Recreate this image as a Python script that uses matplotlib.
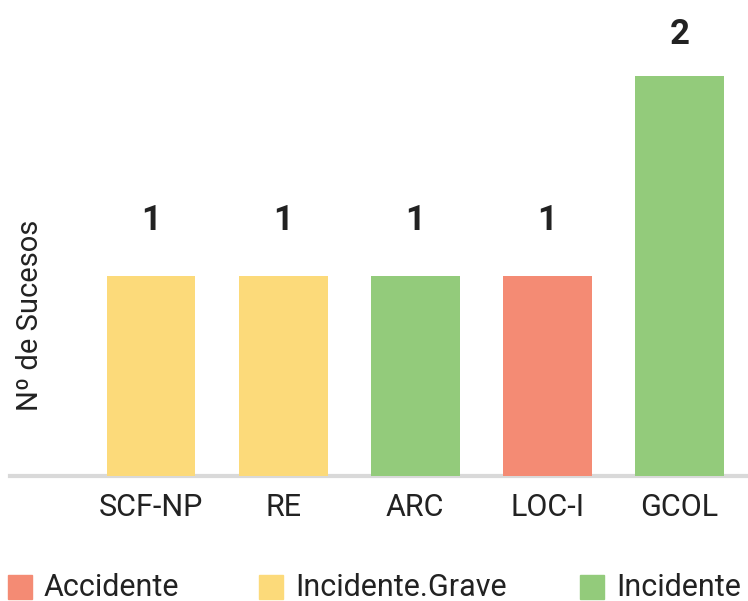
import matplotlib
matplotlib.use("Agg")
import matplotlib.pyplot as plt
from matplotlib.patches import Rectangle

plt.rcParams['font.family'] = ['Roboto', 'DejaVu Sans']

categories = ['SCF-NP', 'RE', 'ARC', 'LOC-I', 'GCOL']
values = [1, 1, 1, 1, 2]
kinds = ['Incidente.Grave', 'Incidente.Grave', 'Incidente', 'Accidente', 'Incidente']
legend_order = ['Accidente', 'Incidente.Grave', 'Incidente']
colors = {'Accidente': '#F48B74', 'Incidente.Grave': '#FCDA7A', 'Incidente': '#93CB7B'}

W, H = 748, 601
fig = plt.figure(figsize=(W / 100, H / 100), dpi=100)
ax = fig.add_axes([10 / W, 125 / H, 738 / W, 476 / H])

ymax = 2.38
x = list(range(len(categories)))
ax.bar(x, values, width=0.67, color=[colors[k] for k in kinds], zorder=2)
for xi, v in zip(x, values):
    # label sits above the bar, but is kept inside the plot area at the top
    ax.text(xi, min(v + 0.28, ymax - 0.175), str(v), ha='center', va='center',
            fontsize=25, fontweight='bold', color='#222222')

ax.set_xlim(-1.07, 4.52)
ax.set_ylim(0, ymax)
ax.set_xticks(x)
ax.set_xticklabels(categories, fontsize=22, color='#222222')
ax.tick_params(axis='x', length=0, pad=12)
ax.set_yticks([])
for s in ['top', 'right', 'left']:
    ax.spines[s].set_visible(False)
ax.spines['bottom'].set_color('#D9D9D9')
ax.spines['bottom'].set_linewidth(3)
ax.spines['bottom'].set_zorder(1)

fig.text(30 / W, 1 - 315 / H, 'Nº de Sucesos', rotation=90, ha='center', va='center',
         fontsize=21, color='#222222')

# legend drawn by hand so the three entries sit where the reference has them
leg_x = [8, 259, 580]
leg_y = 1 - 587 / H
sq = 24
for lx, name in zip(leg_x, legend_order):
    fig.patches.append(Rectangle((lx / W, leg_y - sq / 2 / H), sq / W, sq / H,
                                 transform=fig.transFigure, color=colors[name]))
    fig.text((lx + sq + 12) / W, leg_y, name, ha='left', va='center',
             fontsize=22, color='#222222')

fig.savefig('out.png', dpi=100)
